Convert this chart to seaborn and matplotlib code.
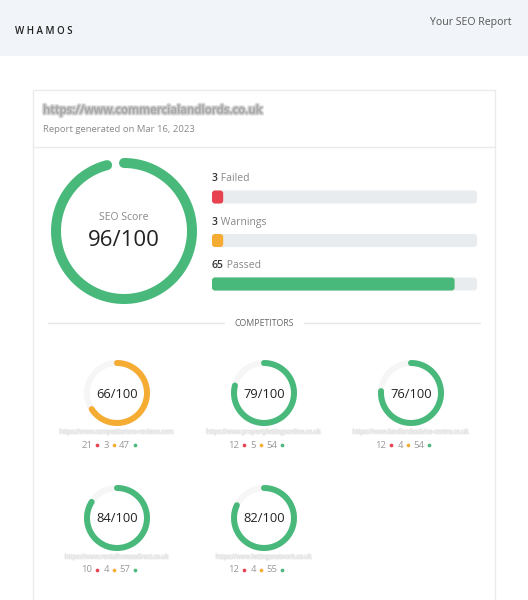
import numpy as np
import pandas as pd
import matplotlib
matplotlib.use("Agg")
import matplotlib.pyplot as plt
import matplotlib.patheffects as pe
import seaborn as sns
from matplotlib.patches import Rectangle, FancyBboxPatch

# report data
site_url = "https://www.commercialandlords.co.uk"
report_date = "Mar 16, 2023"
seo_score = 96
check_labels = ["Failed", "Warnings", "Passed"]
check_counts = [3, 3, 65]

comp_urls = ["https://www.competitorone-reviews.com",
             "https://www.propertylettingsonline.co.uk",
             "https://www.landlordsadvice-centre.co.uk",
             "https://www.rentalhomesdirect.co.uk",
             "https://www.lettingsnetwork.co.uk"]
comp_scores = [66, 79, 76, 84, 82]
comp_failed = [21, 12, 12, 10, 12]
comp_warnings = [3, 5, 4, 4, 4]
comp_passed = [47, 54, 54, 57, 55]

GREEN = "#48b97a"
ORANGE = "#f5ac33"
RED = "#e8414f"
TRACK = "#e9ecef"

sns.set_theme(style="white")
plt.rcParams["font.family"] = ["Open Sans", "DejaVu Sans"]

W, H = 528, 600
fig = plt.figure(figsize=(W / 100, H / 100), dpi=100)
bg = fig.add_axes([0, 0, 1, 1])
bg.set_xlim(0, W)
bg.set_ylim(H, 0)
bg.axis("off")


def px_axes(x, y, w, h, **kw):
    return fig.add_axes([x / W, 1 - (y + h) / H, w / W, h / H], **kw)


def blurred(x, y, s, color, size, ha="left", weight="normal", spread=2.5):
    # fake blur: soft stroke around a faint copy of the text
    effects = [pe.Stroke(linewidth=spread, foreground=color, alpha=0.25),
               pe.Stroke(linewidth=spread * 0.5, foreground=color, alpha=0.3)]
    bg.text(x, y, s, color=color, fontsize=size, ha=ha, va="center", alpha=0.35,
            weight=weight, path_effects=effects)


def gauge(cx, cy, r_out, thick, score, color, track=None):
    R = r_out + 4
    ax = px_axes(cx - R, cy - R, 2 * R, 2 * R, projection="polar")
    ax.set_theta_zero_location("N")
    ax.set_theta_direction(-1)
    ax.set_ylim(0, R)
    ax.axis("off")
    ax.patch.set_alpha(0)
    r = r_out - thick / 2
    lw = thick * 72 / 100
    if track:
        t = np.linspace(0, 2 * np.pi, 240)
        ax.plot(t, np.full_like(t, r), color=track, lw=lw)
    th = np.linspace(0, score / 100 * 2 * np.pi, 240)
    ax.plot(th, np.full_like(th, r), color=color, lw=lw, solid_capstyle="round")
    return ax


# page background, header and card
bg.add_patch(Rectangle((0, 0), W, 56, fc="#f1f4f8", lw=0))
bg.add_patch(Rectangle((33, 90), 462, 530, fc="white", ec="#ebebeb", lw=1))
bg.plot([33, 495], [147, 147], color="#ebebeb", lw=1)

bg.text(15, 31, "W H A M O S", fontsize=7.0, weight="semibold", color="#222",
        va="center", ha="left")
bg.text(511, 22, "Your SEO Report", fontsize=7.6, color="#555", va="center", ha="right")

blurred(43, 110, site_url, "#8a8a8a", 8.3, weight="semibold", spread=3)
bg.text(43, 130, f"Report generated on {report_date}", fontsize=6.8, color="#8a8a8a",
        va="center")

# main score gauge
gauge(124, 231, 73, 10, seo_score, GREEN)
bg.text(124, 217, "SEO Score", fontsize=7.5, color="#888", ha="center", va="center")
bg.text(124, 241, f"{seo_score}/100", fontsize=16, color="#222", ha="center", va="center")

# check bars
total = sum(check_counts)
df = pd.DataFrame({"label": check_labels, "count": check_counts, "total": [total] * 3})
bax = px_axes(212, 175.25, 265, 130.5)
sns.barplot(data=df, x="total", y="label", color=TRACK, width=0.3, ax=bax,
            orient="h", saturation=1)
sns.barplot(data=df, x="count", y="label", hue="label", palette=[RED, ORANGE, GREEN],
            width=0.3, ax=bax, orient="h", legend=False, saturation=1)
bax.set_xlim(0, total)
bax.set_ylim(2.5, -0.5)
bax.axis("off")
bax.patch.set_alpha(0)

# round the bar corners
aspect = (265 / total) / 43.5
for p in list(bax.patches):
    fb = FancyBboxPatch((p.get_x(), p.get_y()), p.get_width(), p.get_height(),
                        boxstyle="round,pad=0,rounding_size=0.8",
                        mutation_aspect=aspect, fc=p.get_facecolor(), lw=0)
    p.set_visible(False)
    bax.add_patch(fb)

for i, (lab, n) in enumerate(zip(check_labels, check_counts)):
    t = bax.text(0, i - 0.42, str(n), fontsize=7.5, weight="semibold", color="#333",
                 va="center", ha="left")
    bax.annotate(" " + lab, xy=(1, 0), xycoords=t, fontsize=7.5, color="#888",
                 va="bottom", ha="left")

# competitors heading
bg.plot([48, 224], [323, 323], color="#e6e6e6", lw=1)
bg.plot([304, 480], [323, 323], color="#e6e6e6", lw=1)
bg.text(264, 323, "COMPETITORS", fontsize=6.3, color="#666", ha="center", va="center")

# competitor gauges
cxs = [117, 264, 411, 117, 264]
cys = [393, 393, 393, 518, 518]
for cx, cy, url, sc, nf, nw, npass in zip(cxs, cys, comp_urls, comp_scores,
                                           comp_failed, comp_warnings, comp_passed):
    col = ORANGE if sc < 70 else GREEN
    gauge(cx, cy, 33, 6, sc, col, track="#f6f6f6")
    bg.text(cx, cy + 1, f"{sc}/100", fontsize=9.3, color="#222", ha="center", va="center")
    blurred(cx, cy + 39, url, "#d8d8d8", 4.3, ha="center", spread=1.6)
    ly = cy + 52
    for n, off, c in ((nf, -25, RED), (nw, -8, ORANGE), (npass, 13, GREEN)):
        bg.text(cx + off, ly, str(n), fontsize=6.8, color="#999", ha="right", va="center")
        bg.scatter([cx + off + 5], [ly], s=7, color=c, lw=0)

fig.savefig("out.png", dpi=100)
